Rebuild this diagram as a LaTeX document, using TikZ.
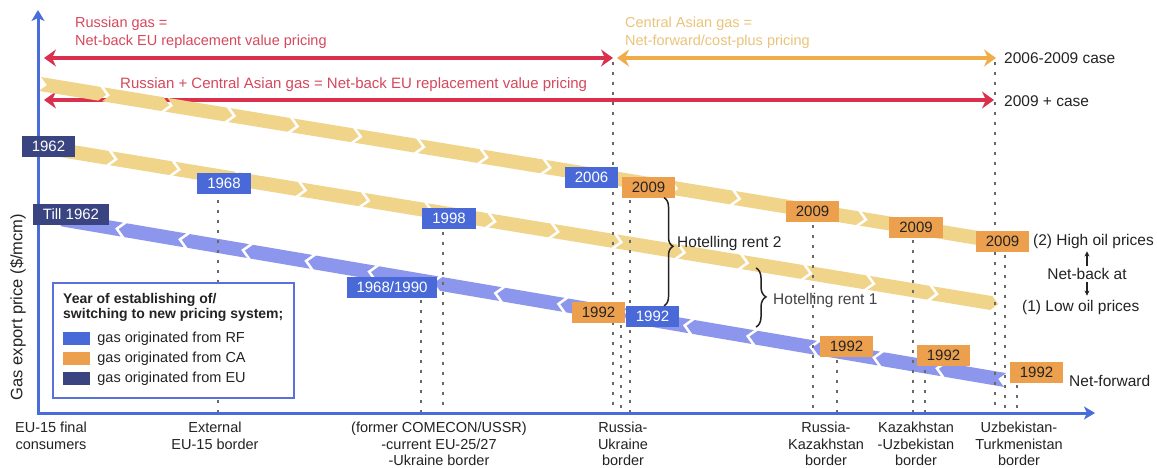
\documentclass[tikz,border=0pt]{standalone}
\usepackage{fontspec}
\setmainfont{Liberation Sans}
\usetikzlibrary{arrows.meta,decorations.markings,decorations.pathreplacing}

\definecolor{axisblue}{RGB}{72,108,220}
\definecolor{rfblue}{RGB}{72,105,215}
\definecolor{euNavy}{RGB}{58,68,128}
\definecolor{caorange}{RGB}{236,160,78}
\definecolor{bandgold}{RGB}{240,212,138}
\definecolor{bandblue}{RGB}{140,150,236}
\definecolor{netred}{RGB}{218,48,78}
\definecolor{redtext}{RGB}{214,72,92}
\definecolor{fwdorange}{RGB}{240,172,72}
\definecolor{fwdtext}{RGB}{234,196,122}
\definecolor{ink}{RGB}{35,35,35}
\definecolor{dotgray}{RGB}{105,105,105}
\definecolor{legblue}{RGB}{90,112,218}

\tikzset{
  lbl/.style={inner sep=0pt, text=ink, font=\fontsize{14.5}{17}\selectfont},
  sidelbl/.style={lbl, font=\fontsize{15.5}{18}\selectfont},
  toplbl/.style={inner sep=0pt, align=left, font=\fontsize{14.5}{18}\selectfont},
  border/.style={lbl, align=center, anchor=north, font=\fontsize{14.5}{16.5}\selectfont},
  yearbox/.style={minimum height=21pt, inner xsep=10pt, inner ysep=0pt,
                  font=\fontsize{15}{17}\selectfont},
  rfbox/.style={yearbox, fill=rfblue, text=white},
  eubox/.style={yearbox, fill=euNavy, text=white},
  cabox/.style={yearbox, fill=caorange, text=ink},
  swatch/.style={minimum width=27pt, minimum height=13pt, inner sep=0pt},
  dotline/.style={draw=dotgray, line width=1.4pt, dash pattern=on 3pt off 7pt},
  axisline/.style={line width=3pt, draw=axisblue, line join=miter,
    {Stealth[length=11pt,width=13pt,inset=3pt]}-{Stealth[length=11pt,width=13pt,inset=3pt]}},
  pricearrow/.style={line width=4pt, draw=#1,
    {Stealth[length=12pt,width=17pt,inset=4pt]}-{Stealth[length=12pt,width=17pt,inset=4pt]}},
  chevrons/.style={decorate, decoration={markings,
    mark=between positions 0 and 0.94 step 64pt with {
      \fill[#1] (0pt,-7pt) -- (60pt,-7pt) -- (67pt,0pt) -- (60pt,7pt)
                -- (0pt,7pt) -- (7pt,0pt) -- cycle;}}},
  rentbrace/.style={draw=ink, line width=1.5pt,
    decorate, decoration={brace, amplitude=#1}},
  tinyarrow/.style={draw=ink, line width=1.2pt, -{Stealth[length=5pt,width=5pt]}},
}

\begin{document}
\begin{tikzpicture}[x=1pt, y=-1pt]
\useasboundingbox (0,0) rectangle (1157,467);
\fill[white] (0,0) rectangle (1157,467);

% axes corner and ends
\coordinate (O) at (38,413);
\coordinate (ytop) at (38,10);
\coordinate (xend) at (1095,413);

% pricing-regime arrows
\coordinate (r1a) at (44,58);  \coordinate (r1b) at (613,58);
\coordinate (o1a) at (617,58); \coordinate (o1b) at (996,58);
\coordinate (r2a) at (44,100); \coordinate (r2b) at (994,100);
\draw[pricearrow=netred] (r1a) -- (r1b);
\draw[pricearrow=fwdorange] (o1a) -- (o1b);
\draw[pricearrow=netred] (r2a) -- (r2b);

% price bands
\coordinate (tb0) at (40,84);   \coordinate (tb1) at (990,240);
\coordinate (mb0) at (48,148);  \coordinate (mb1) at (1003,305);
\coordinate (bb0) at (1005,380);\coordinate (bb1) at (60,219);
\path[chevrons=bandgold] (tb0) -- (tb1);
\path[chevrons=bandgold] (mb0) -- (mb1);
\path[chevrons=bandblue] (bb0) -- (bb1);

% border guide lines
\coordinate (dA) at (218,190);
\coordinate (dB) at (421,290);
\coordinate (dC) at (443,222);
\coordinate (dD) at (613,62);
\coordinate (dE) at (621,315);
\coordinate (dF) at (630,190);
\coordinate (dG) at (813,205);
\coordinate (dH) at (837,350);
\coordinate (dI) at (913,220);
\coordinate (dJ) at (925,360);
\coordinate (dK) at (995,62);
\coordinate (dL) at (1005,245);
\coordinate (dM) at (1017,375);
\foreach \c in {dA,dB,dC,dD,dE,dF,dG,dH,dI,dJ,dK,dL,dM}
  \draw[dotline] (\c) -- (\c |- O);

% axes
\draw[axisline] (ytop) -- (O) -- (xend);

% year boxes
\node[eubox] (e1962) at (48.5,146) {1962};
\node[eubox] (eTill) at (71,214) {Till 1962};
\node[rfbox] (r1968) at (224,183.5) {1968};
\node[rfbox] (r1998) at (449,218.5) {1998};
\node[rfbox] (r1990) at (392,287) {1968/1990};
\node[rfbox] (r2006) at (591.5,177.5) {2006};
\node[cabox] (c1992a) at (598.5,312.5) {1992};
\node[rfbox] (r1992) at (652.5,316.5) {1992};
\node[cabox] (c2009a) at (648.5,187) {2009};
\node[cabox] (c2009b) at (812.5,211) {2009};
\node[cabox] (c2009c) at (916,227) {2009};
\node[cabox] (c2009d) at (1002.5,241) {2009};
\node[cabox] (c1992b) at (846.5,346) {1992};
\node[cabox] (c1992c) at (943.5,355.5) {1992};
\node[cabox] (c1992d) at (1036.5,372.5) {1992};

% regime labels (base anchor sits on the last line)
\node[toplbl, text=redtext, anchor=base west] (rusgas) at (75,45)
  {Russian gas =\\Net-back EU replacement value pricing};
\node[toplbl, text=fwdtext, anchor=base west] (cagas) at (625,45)
  {Central Asian gas =\\Net-forward/cost-plus pricing};
\node[toplbl, text=redtext, anchor=base west,
      font=\fontsize{15}{18}\selectfont] (bothgas) at (120,88)
  {Russian + Central Asian gas = Net-back EU replacement value pricing};
\node[sidelbl, anchor=west] (case1) at (1004,58) {2006-2009 case};
\node[sidelbl, anchor=west] (case2) at (1004,101) {2009 + case};

% Hotelling rents
\coordinate (hb2) at (664,0);
\coordinate (hb1) at (756,0);
\draw[rentbrace=9pt, decoration={aspect=0.45}]
  (c2009a.south -| hb2) -- (r1992.north -| hb2);
\coordinate (hr1t) at (756,268);
\coordinate (hr1b) at (756,327);
\draw[rentbrace=10pt, decoration={aspect=0.49}] (hr1t) -- (hr1b);
\node[sidelbl, anchor=west] (rent2) at (677,243) {Hotelling rent 2};
\node[sidelbl, anchor=west, text=ink!85] (rent1) at (773,300) {Hotelling rent 1};

% oil-price cases
\node[sidelbl, anchor=west] (high) at (1033,241) {(2) High oil prices};
\node[sidelbl] (netback) at (1087,274) {Net-back at};
\node[sidelbl, anchor=west] (low) at (1022,307) {(1) Low oil prices};
\draw[tinyarrow, shorten <=2pt, shorten >=3pt] (netback.north) -- (netback.north |- high.south);
\draw[tinyarrow, shorten <=2pt, shorten >=4pt] (netback.south) -- (netback.south |- low.north);
\node[sidelbl, anchor=west] (netfwd) at (1069,381) {Net-forward};

% axis titles
\node[lbl, rotate=90, font=\fontsize{16.5}{20}\selectfont] (ylab) at (18,307)
  {Gas export price (\$/mcm)};
\node[border] (bEU) at (51,422) {EU-15 final\\consumers};
\node[border] (bExt) at (215,422) {External\\EU-15 border};
\node[border] (bCom) at (439,422) {(former COMECON/USSR)\\-current EU-25/27\\-Ukraine border};
\node[border] (bRU) at (623,422) {Russia-\\Ukraine\\border};
\node[border] (bRK) at (826,422) {Russia-\\Kazakhstan\\border};
\node[border] (bKU) at (916,422) {Kazakhstan\\-Uzbekistan\\border};
\node[border] (bUT) at (1019,422) {Uzbekistan-\\Turkmenistan\\border};

% legend
\node[draw=legblue, line width=1.6pt, fill=white, minimum width=241pt,
      minimum height=115pt, anchor=north west, inner sep=0pt] (legend) at (52,282) {};
\node[lbl, anchor=base west, align=left, font=\bfseries\fontsize{14}{15}\selectfont]
  (legtitle) at (63,318) {Year of establishing of/\\switching to new pricing system;};
\node[swatch, fill=rfblue] (swRF) at (76.5,338.5) {};
\node[swatch, fill=caorange] (swCA) at (76.5,358.5) {};
\node[swatch, fill=euNavy] (swEU) at (76.5,378.5) {};
\node[lbl, anchor=west] at ([xshift=7pt]swRF.east) {gas originated from RF};
\node[lbl, anchor=west] at ([xshift=7pt]swCA.east) {gas originated from CA};
\node[lbl, anchor=west] at ([xshift=7pt]swEU.east) {gas originated from EU};
\end{tikzpicture}
\end{document}
